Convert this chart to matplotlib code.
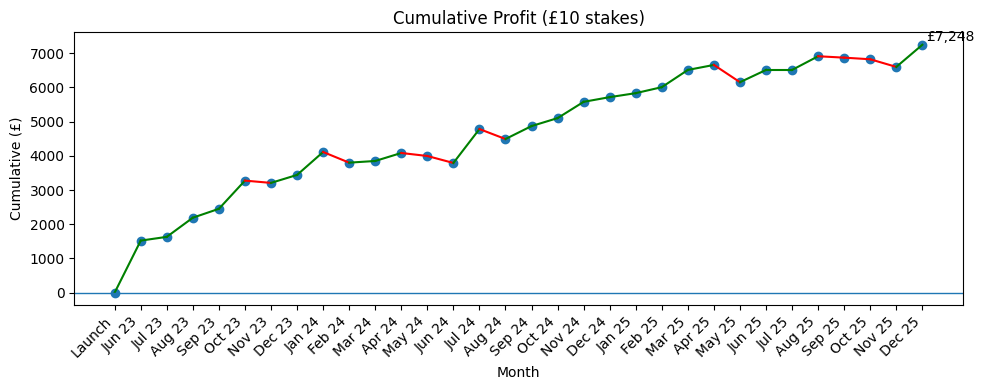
import matplotlib
matplotlib.use("Agg")
import matplotlib.pyplot as plt

# 月ラベルと累積利益 (£10 stakes)
months = ["Launch", "Jun 23", "Jul 23", "Aug 23", "Sep 23", "Oct 23", "Nov 23",
          "Dec 23", "Jan 24", "Feb 24", "Mar 24", "Apr 24", "May 24", "Jun 24",
          "Jul 24", "Aug 24", "Sep 24", "Oct 24", "Nov 24", "Dec 24", "Jan 25",
          "Feb 25", "Mar 25", "Apr 25", "May 25", "Jun 25", "Jul 25", "Aug 25",
          "Sep 25", "Oct 25", "Nov 25", "Dec 25"]
cumulative = [0, 1520, 1630, 2190, 2450, 3275, 3208, 3441, 4112, 3800, 3849,
              4083, 3995, 3791, 4783, 4491, 4870, 5103, 5579, 5716, 5833, 6008,
              6512, 6658, 6153, 6512, 6512, 6912, 6871, 6824, 6600, 7248]

fig, ax = plt.subplots(figsize=(9.84, 3.9))

x = list(range(len(months)))
ax.plot(x, cumulative, marker='o', linestyle='')

# 上昇は緑、下降は赤
for i in range(1, len(x)):
    color = 'green' if cumulative[i] >= cumulative[i - 1] else 'red'
    ax.plot(x[i - 1:i + 1], cumulative[i - 1:i + 1], color=color)

ax.axhline(0, linewidth=1)
ax.annotate(f"£{cumulative[-1]:,}", (x[-1], cumulative[-1]),
            xytext=(3, 3), textcoords='offset points')

ax.set_title('Cumulative Profit (£10 stakes)')
ax.set_xlabel('Month')
ax.set_ylabel('Cumulative (£)')
ax.set_xticks(x)
ax.set_xticklabels(months, rotation=45, ha='right')

# レイアウトを調整
fig.subplots_adjust(left=0.0755, right=0.9784, top=0.917, bottom=0.218)
plt.savefig('out.png', dpi=100)
